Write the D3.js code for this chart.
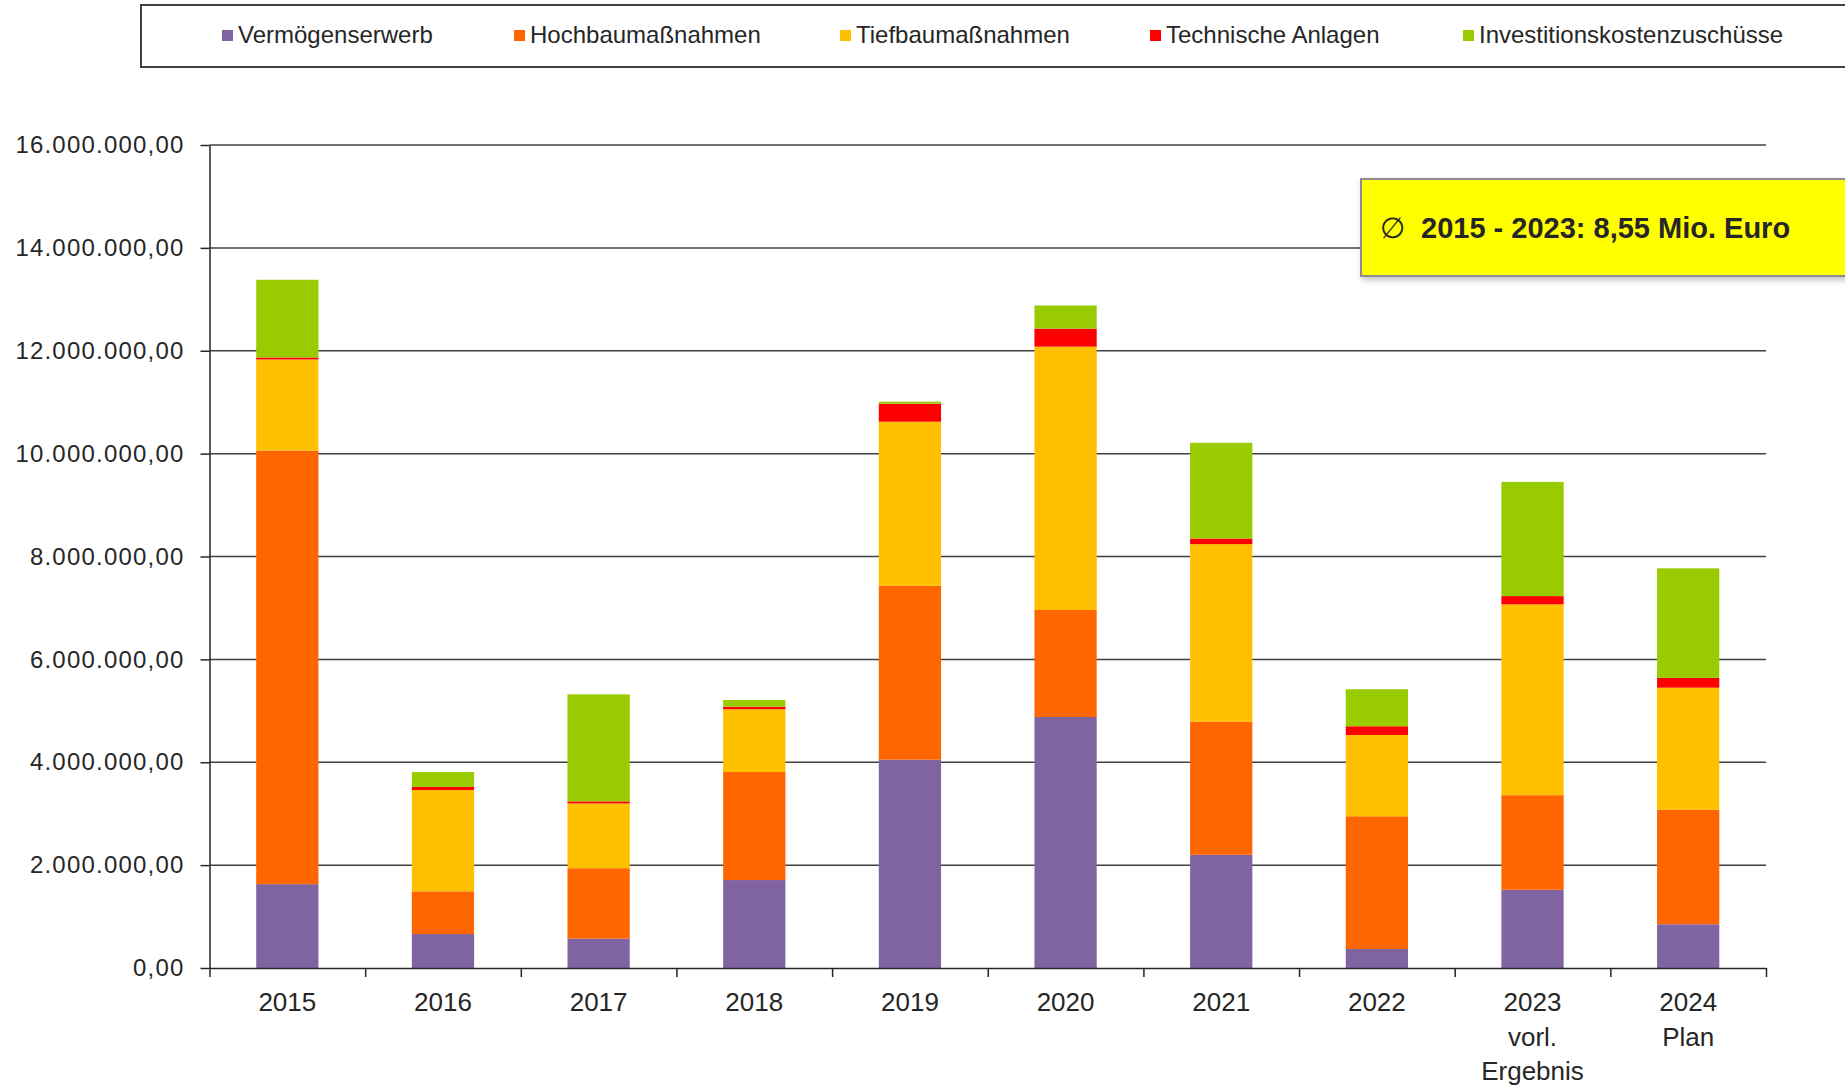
<!DOCTYPE html>
<html>
<head>
<meta charset="utf-8">
<script src="https://cdn.jsdelivr.net/npm/d3@7"></script>
<style>
  body { margin: 0; background: #fff; }
  text { font-family: Arial, "Liberation Sans", sans-serif; fill: #262626; }
</style>
</head>
<body>
<svg width="1845" height="1085"></svg>
<script>
var years = ["2015","2016","2017","2018","2019","2020","2021","2022","2023","2024"];
var subLabels = ["","","","","","","","","vorl.|Ergebnis","Plan"];

// values in Mio. Euro
var vermoegen   = [1.63, 0.66, 0.57, 1.71, 4.05, 4.88, 2.20, 0.37, 1.52, 0.85];
var hochbau     = [8.43, 0.83, 1.37, 2.10, 3.38, 2.08, 2.59, 2.58, 1.84, 2.23];
var tiefbau     = [1.77, 1.97, 1.26, 1.22, 3.19, 5.12, 3.45, 1.58, 3.71, 2.37];
var technik     = [0.04, 0.06, 0.04, 0.05, 0.35, 0.35, 0.11, 0.17, 0.16, 0.19];
var zuschuesse  = [1.51, 0.29, 2.08, 0.13, 0.04, 0.45, 1.86, 0.72, 2.22, 2.13];

var keys = ["Vermögenserwerb","Hochbaumaßnahmen","Tiefbaumaßnahmen","Technische Anlagen","Investitionskostenzuschüsse"];
var colors = ["#8064a2","#ff6600","#ffc000","#ff0000","#99cc00"];
var yTicks = [0, 2e6, 4e6, 6e6, 8e6, 10e6, 12e6, 14e6, 16e6];

var table = years.map(function(y, i) {
  var o = {year: y};
  o[keys[0]] = vermoegen[i] * 1e6;
  o[keys[1]] = hochbau[i] * 1e6;
  o[keys[2]] = tiefbau[i] * 1e6;
  o[keys[3]] = technik[i] * 1e6;
  o[keys[4]] = zuschuesse[i] * 1e6;
  return o;
});

var svg = d3.select("svg");
var plotLeft = 209.5, plotRight = 1766, plotTop = 145, plotBottom = 968;

var de = d3.formatLocale({decimal: ",", thousands: ".", grouping: [3], currency: ["", " €"]});
var fmt = de.format(",.2f");

var x = d3.scaleBand().domain(years).range([plotLeft, plotRight]).paddingInner(0.6).paddingOuter(0.3);
var xi = d3.scaleLinear().domain([0, years.length]).range([plotLeft, plotRight]);
var y = d3.scaleLinear().domain([0, 16e6]).range([plotBottom, plotTop]);
var z = d3.scaleOrdinal().domain(keys).range(colors);

var defs = svg.append("defs");
var f = defs.append("filter").attr("id", "shadow").attr("x", "-10%").attr("y", "-20%").attr("width", "130%").attr("height", "150%");
f.append("feDropShadow").attr("dx", 2).attr("dy", 3).attr("stdDeviation", 3).attr("flood-color", "#000").attr("flood-opacity", 0.25);

// gridlines
svg.append("g").selectAll("line")
  .data(yTicks.slice(1))
  .enter().append("line")
    .attr("x1", plotLeft).attr("x2", plotRight)
    .attr("y1", function(d) { return y(d); })
    .attr("y2", function(d) { return y(d); })
    .attr("stroke", "#404040").attr("stroke-width", 1.5);

// bars
svg.append("g")
  .selectAll("g")
  .data(d3.stack().keys(keys)(table))
  .enter().append("g")
    .attr("fill", function(d) { return z(d.key); })
  .selectAll("rect")
  .data(function(d) { return d; })
  .enter().append("rect")
    .attr("x", function(d) { return x(d.data.year); })
    .attr("y", function(d) { return y(d[1]); })
    .attr("height", function(d) { return y(d[0]) - y(d[1]); })
    .attr("width", x.bandwidth());

// y axis
var yAxis = svg.append("g")
  .attr("transform", "translate(" + plotLeft + ",0)")
  .call(d3.axisLeft(y).tickValues(yTicks).tickFormat(fmt).tickSizeInner(9).tickSizeOuter(0).tickPadding(16));
yAxis.select(".domain").attr("stroke", "#262626").attr("stroke-width", 1.5);
yAxis.selectAll(".tick line").attr("stroke", "#262626").attr("stroke-width", 1.5);
yAxis.selectAll(".tick text")
  .attr("font-size", 24).attr("letter-spacing", 1.2)
  .attr("font-family", "Arial, 'Liberation Sans', sans-serif")
  .attr("fill", "#262626");

// x axis (ticks between categories)
var xAxis = svg.append("g")
  .attr("transform", "translate(0," + plotBottom + ")")
  .call(d3.axisBottom(xi).tickValues(d3.range(0, years.length + 1)).tickFormat("").tickSizeInner(9).tickSizeOuter(0));
xAxis.select(".domain").attr("stroke", "#262626").attr("stroke-width", 1.5);
xAxis.selectAll(".tick line").attr("stroke", "#262626").attr("stroke-width", 1.5);

var labels = svg.append("g").selectAll("text")
  .data(years)
  .enter().append("text")
    .attr("x", function(d) { return x(d) + x.bandwidth() / 2; })
    .attr("y", 1011)
    .attr("text-anchor", "middle")
    .attr("font-size", 26);
labels.each(function(d, i) {
  var t = d3.select(this);
  t.append("tspan").attr("x", x(d) + x.bandwidth() / 2).text(d);
  if (subLabels[i]) {
    subLabels[i].split("|").forEach(function(s) {
      t.append("tspan").attr("x", x(d) + x.bandwidth() / 2).attr("dy", 34.5).text(s);
    });
  }
});

// legend
svg.append("rect")
  .attr("x", 141).attr("y", 5).attr("width", 1740).attr("height", 62)
  .attr("fill", "#fff").attr("stroke", "#404040").attr("stroke-width", 2);
var legendX = [222, 514, 840, 1150, 1463];
var legend = svg.append("g").selectAll("g")
  .data(keys)
  .enter().append("g")
    .attr("transform", function(d, i) { return "translate(" + legendX[i] + ",0)"; });
legend.append("rect")
  .attr("x", 0).attr("y", 30).attr("width", 11).attr("height", 11)
  .attr("fill", z);
legend.append("text")
  .attr("x", 16).attr("y", 43)
  .attr("font-size", 24)
  .text(function(d) { return d; });

// average box
svg.append("rect")
  .attr("x", 1361).attr("y", 179).attr("width", 520).attr("height", 97)
  .attr("fill", "#ffff00").attr("stroke", "#8c8c8c").attr("stroke-width", 2)
  .attr("filter", "url(#shadow)");
svg.append("text")
  .attr("x", 1380).attr("y", 238)
  .attr("font-size", 29)
  .text("\u2205");
svg.append("text")
  .attr("x", 1421).attr("y", 238)
  .attr("font-size", 29).attr("font-weight", "bold")
  .text("2015 - 2023: 8,55 Mio. Euro");
</script>
</body>
</html>
